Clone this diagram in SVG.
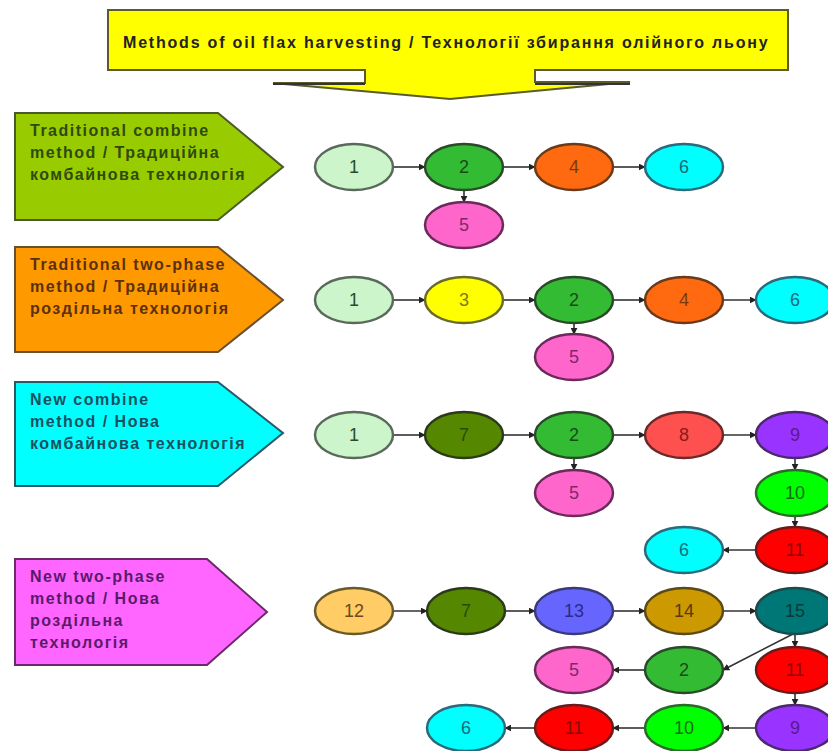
<svg xmlns="http://www.w3.org/2000/svg" width="828" height="751" viewBox="0 0 828 751">
<defs>
<marker id="ah" viewBox="0 0 10 10" refX="9" refY="5" markerWidth="7" markerHeight="7" markerUnits="userSpaceOnUse" orient="auto">
<path d="M0,0 L10,5 L0,10 z" fill="#222"/>
</marker>
</defs>
<style>
text{font-family:"Liberation Sans",Arial,sans-serif}
.lab{font-size:16px;font-weight:bold;letter-spacing:1.5px}
.ttl{font-size:16px;font-weight:bold;letter-spacing:1.8px}
.num{font-size:18px;text-anchor:middle;dominant-baseline:central}
.n ellipse{stroke-width:2.5}
#connectors line{stroke:#333;stroke-width:1.6;marker-end:url(#ah)}
</style>
<rect width="828" height="751" fill="#fff"/>

<g id="title">
<path d="M108,10 H788 V70 H535 V82 H630 L450,99 L273,83 H365 V70 H108 Z" fill="#ffff00" stroke="#5a5a2a" stroke-width="2"/>
<line x1="273" y1="84" x2="365" y2="84" stroke="#333" stroke-width="2"/>
<line x1="535" y1="84" x2="630" y2="84" stroke="#333" stroke-width="2"/>
<text x="123" y="48" class="ttl" fill="#222">Methods of oil flax harvesting  / Технології збирання олійного льону</text>
</g>

<g id="m1">
<polygon points="15,113 218,113 283,167 218,220 15,220" fill="#99cc00" stroke="#4a5a2a" stroke-width="2"/>
<text class="lab" fill="#2f4a10"><tspan x="30" y="136">Traditional combine</tspan><tspan x="30" y="158">method / Традиційна</tspan><tspan x="30" y="180">комбайнова технологія</tspan></text>
</g>
<g id="m2">
<polygon points="15,247 218,247 283,300 218,352 15,352" fill="#ff9900" stroke="#6a5030" stroke-width="2"/>
<text class="lab" fill="#5a3010"><tspan x="30" y="270">Traditional two-phase</tspan><tspan x="30" y="292">method / Традиційна</tspan><tspan x="30" y="314">роздільна технологія</tspan></text>
</g>
<g id="m3">
<polygon points="15,382 218,382 283,433 218,486 15,486" fill="#00ffff" stroke="#2a5a6a" stroke-width="2"/>
<text class="lab" fill="#1a5060"><tspan x="30" y="405">New combine</tspan><tspan x="30" y="427">method / Нова</tspan><tspan x="30" y="449">комбайнова технологія</tspan></text>
</g>
<g id="m4">
<polygon points="15,559 207,559 267,612 207,665 15,665" fill="#ff66ff" stroke="#6a2a6a" stroke-width="2"/>
<text class="lab" fill="#5a1a6a"><tspan x="30" y="582">New two-phase</tspan><tspan x="30" y="604">method / Нова</tspan><tspan x="30" y="626">роздільна</tspan><tspan x="30" y="648">технологія</tspan></text>
</g>

<g id="connectors">
<line x1="393" y1="167" x2="425" y2="167"/>
<line x1="503" y1="167" x2="535" y2="167"/>
<line x1="613" y1="167" x2="645" y2="167"/>
<line x1="464" y1="190" x2="464" y2="202"/>

<line x1="393" y1="300" x2="425" y2="300"/>
<line x1="503" y1="300" x2="535" y2="300"/>
<line x1="613" y1="300" x2="645" y2="300"/>
<line x1="723" y1="300" x2="756" y2="300"/>
<line x1="574" y1="323" x2="574" y2="334"/>

<line x1="393" y1="435" x2="425" y2="435"/>
<line x1="503" y1="435" x2="535" y2="435"/>
<line x1="613" y1="435" x2="645" y2="435"/>
<line x1="723" y1="435" x2="756" y2="435"/>
<line x1="574" y1="458" x2="574" y2="470"/>
<line x1="795" y1="458" x2="795" y2="470"/>
<line x1="795" y1="516" x2="795" y2="527"/>
<line x1="756" y1="550" x2="723" y2="550"/>

<line x1="393" y1="611" x2="427" y2="611"/>
<line x1="505" y1="611" x2="535" y2="611"/>
<line x1="613" y1="611" x2="645" y2="611"/>
<line x1="723" y1="611" x2="756" y2="611"/>
<line x1="795" y1="634" x2="795" y2="647"/>
<line x1="793" y1="634" x2="723" y2="670"/>
<line x1="645" y1="670" x2="613" y2="670"/>
<line x1="795" y1="693" x2="795" y2="705"/>
<line x1="756" y1="728" x2="723" y2="728"/>
<line x1="645" y1="728" x2="613" y2="728"/>
<line x1="535" y1="728" x2="505" y2="728"/>
</g>

<g id="r1n1" class="n"><ellipse cx="354" cy="167" rx="39" ry="23" fill="#ccf5cc" stroke="#5a6a5a"/><text x="354" y="167" class="num" fill="#2a4a2a">1</text></g>
<g id="r1n2" class="n"><ellipse cx="464" cy="167" rx="39" ry="23" fill="#33bb33" stroke="#2a4a2a"/><text x="464" y="167" class="num" fill="#1a4a1a">2</text></g>
<g id="r1n4" class="n"><ellipse cx="574" cy="167" rx="39" ry="23" fill="#ff6a10" stroke="#6a3a1a"/><text x="574" y="167" class="num" fill="#7a3a10">4</text></g>
<g id="r1n6" class="n"><ellipse cx="684" cy="167" rx="39" ry="23" fill="#00ffff" stroke="#2a6a7a"/><text x="684" y="167" class="num" fill="#1a6a7a">6</text></g>
<g id="r1n5" class="n"><ellipse cx="464" cy="225" rx="39" ry="23" fill="#ff66cc" stroke="#6a2a5a"/><text x="464" y="225" class="num" fill="#7a2a6a">5</text></g>

<g id="r2n1" class="n"><ellipse cx="354" cy="300" rx="39" ry="23" fill="#ccf5cc" stroke="#5a6a5a"/><text x="354" y="300" class="num" fill="#2a4a2a">1</text></g>
<g id="r2n3" class="n"><ellipse cx="464" cy="300" rx="39" ry="23" fill="#ffff00" stroke="#6a6a2a"/><text x="464" y="300" class="num" fill="#7a7a1a">3</text></g>
<g id="r2n2" class="n"><ellipse cx="574" cy="300" rx="39" ry="23" fill="#33bb33" stroke="#2a4a2a"/><text x="574" y="300" class="num" fill="#1a4a1a">2</text></g>
<g id="r2n4" class="n"><ellipse cx="684" cy="300" rx="39" ry="23" fill="#ff6a10" stroke="#6a3a1a"/><text x="684" y="300" class="num" fill="#7a3a10">4</text></g>
<g id="r2n6" class="n"><ellipse cx="795" cy="300" rx="39" ry="23" fill="#00ffff" stroke="#2a6a7a"/><text x="795" y="300" class="num" fill="#1a6a7a">6</text></g>
<g id="r2n5" class="n"><ellipse cx="574" cy="357" rx="39" ry="23" fill="#ff66cc" stroke="#6a2a5a"/><text x="574" y="357" class="num" fill="#7a2a6a">5</text></g>

<g id="r3n1" class="n"><ellipse cx="354" cy="435" rx="39" ry="23" fill="#ccf5cc" stroke="#5a6a5a"/><text x="354" y="435" class="num" fill="#2a4a2a">1</text></g>
<g id="r3n7" class="n"><ellipse cx="464" cy="435" rx="39" ry="23" fill="#558800" stroke="#2a3a1a"/><text x="464" y="435" class="num" fill="#2a4a0a">7</text></g>
<g id="r3n2" class="n"><ellipse cx="574" cy="435" rx="39" ry="23" fill="#33bb33" stroke="#2a4a2a"/><text x="574" y="435" class="num" fill="#1a4a1a">2</text></g>
<g id="r3n8" class="n"><ellipse cx="684" cy="435" rx="39" ry="23" fill="#ff5050" stroke="#6a2a2a"/><text x="684" y="435" class="num" fill="#8a1a1a">8</text></g>
<g id="r3n9" class="n"><ellipse cx="795" cy="435" rx="39" ry="23" fill="#9933ff" stroke="#4a2a6a"/><text x="795" y="435" class="num" fill="#5a1a8a">9</text></g>
<g id="r3n5" class="n"><ellipse cx="574" cy="493" rx="39" ry="23" fill="#ff66cc" stroke="#6a2a5a"/><text x="574" y="493" class="num" fill="#7a2a6a">5</text></g>
<g id="r3n10" class="n"><ellipse cx="795" cy="493" rx="39" ry="23" fill="#00ff00" stroke="#2a6a2a"/><text x="795" y="493" class="num" fill="#1a6a1a">10</text></g>
<g id="r3n11" class="n"><ellipse cx="795" cy="550" rx="39" ry="23" fill="#ff0000" stroke="#6a1a1a"/><text x="795" y="550" class="num" fill="#8a0a0a">11</text></g>
<g id="r3n6" class="n"><ellipse cx="684" cy="550" rx="39" ry="23" fill="#00ffff" stroke="#2a6a7a"/><text x="684" y="550" class="num" fill="#1a6a7a">6</text></g>

<g id="r4n12" class="n"><ellipse cx="354" cy="611" rx="39" ry="23" fill="#ffcc66" stroke="#6a5a2a"/><text x="354" y="611" class="num" fill="#6a4a1a">12</text></g>
<g id="r4n7" class="n"><ellipse cx="466" cy="611" rx="39" ry="23" fill="#558800" stroke="#2a3a1a"/><text x="466" y="611" class="num" fill="#2a4a0a">7</text></g>
<g id="r4n13" class="n"><ellipse cx="574" cy="611" rx="39" ry="23" fill="#6666ff" stroke="#3a3a7a"/><text x="574" y="611" class="num" fill="#2a2a8a">13</text></g>
<g id="r4n14" class="n"><ellipse cx="684" cy="611" rx="39" ry="23" fill="#cc9900" stroke="#5a4a1a"/><text x="684" y="611" class="num" fill="#5a3a0a">14</text></g>
<g id="r4n15" class="n"><ellipse cx="795" cy="611" rx="39" ry="23" fill="#007777" stroke="#1a4a4a"/><text x="795" y="611" class="num" fill="#0a3a3a">15</text></g>
<g id="r4n5" class="n"><ellipse cx="574" cy="670" rx="39" ry="23" fill="#ff66cc" stroke="#6a2a5a"/><text x="574" y="670" class="num" fill="#7a2a6a">5</text></g>
<g id="r4n2" class="n"><ellipse cx="684" cy="670" rx="39" ry="23" fill="#33bb33" stroke="#2a4a2a"/><text x="684" y="670" class="num" fill="#1a4a1a">2</text></g>
<g id="r4n11a" class="n"><ellipse cx="795" cy="670" rx="39" ry="23" fill="#ff0000" stroke="#6a1a1a"/><text x="795" y="670" class="num" fill="#8a0a0a">11</text></g>
<g id="r4n9" class="n"><ellipse cx="795" cy="728" rx="39" ry="23" fill="#9933ff" stroke="#4a2a6a"/><text x="795" y="728" class="num" fill="#5a1a8a">9</text></g>
<g id="r4n10" class="n"><ellipse cx="684" cy="728" rx="39" ry="23" fill="#00ff00" stroke="#2a6a2a"/><text x="684" y="728" class="num" fill="#1a6a1a">10</text></g>
<g id="r4n11b" class="n"><ellipse cx="574" cy="728" rx="39" ry="23" fill="#ff0000" stroke="#6a1a1a"/><text x="574" y="728" class="num" fill="#8a0a0a">11</text></g>
<g id="r4n6" class="n"><ellipse cx="466" cy="728" rx="39" ry="23" fill="#00ffff" stroke="#2a6a7a"/><text x="466" y="728" class="num" fill="#1a6a7a">6</text></g>
</svg>
